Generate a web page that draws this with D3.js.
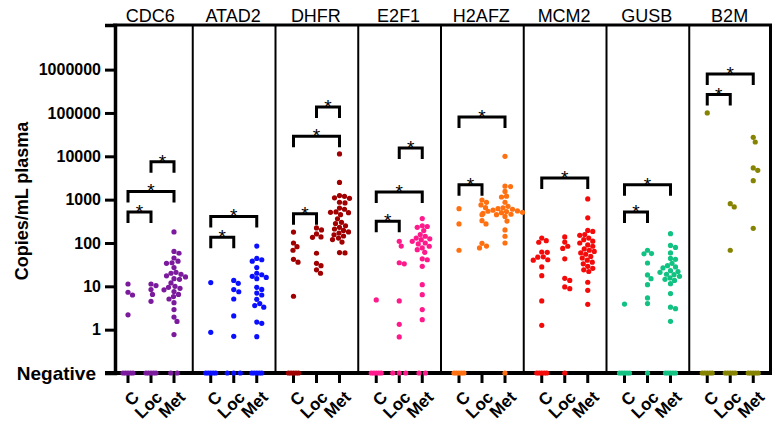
<!DOCTYPE html>
<html><head><meta charset="utf-8">
<script src="https://cdn.jsdelivr.net/npm/d3@7"></script>
<style>html,body{margin:0;padding:0;background:#fff}svg{display:block}</style>
</head><body>
<svg id="chart" width="780" height="430"></svg>
<script>
// ---------- data ----------
const genes = ["CDC6","ATAD2","DHFR","E2F1","H2AFZ","MCM2","GUSB","B2M"];
const groups = ["C","Loc","Met"];
const colors = ["#7B1A9C","#0A10FF","#A00000","#FF1A8C","#FF7010","#F50A0A","#12C283","#868300"];

// detected values (copies/mL plasma) per group: [C, Loc, Met]
const cdc6  = [[11.3,7.3,6.3,2.2],[11.3,10.4,8.4,6.5,4.5],
  [180,64,58,45,38,35,34,27,21,20,19,17.5,16.5,15,14.5,12,10,9.5,9,8.3,7.6,6.5,5.8,5.1,4.2,2.9,1.95,1.55,0.77]];
const atad2 = [[12.2,0.87],[13.7,11.7,8.4,7.5,5.1,2.07,0.70],
  [85,44,41,38,27,20,18.5,17,16,15,9.5,8.5,7.0,6.3,5.0,4.0,3.6,3.3,1.5,1.4,0.69]];
const dhfr  = [[178,100,82,68,42,36,5.9],[222,200,162,138,135,58,34,30,24,20],
  [11350,2500,1240,1190,1100,1070,870,840,640,600,520,510,500,450,360,300,280,250,230,210,195,180,170,155,145,130,120,105,60,59]];
const e2f1  = [[4.85],[109,85,35,33,4.6,1.33,0.68],
  [365,250,240,230,193,156,143,130,125,119,109,100,95,84,77,70,61,43,41,29,10.9,6.4,2.9,1.7]];
const h2afz = [[620,275,68],[982,867,754,654,451,327,275,98,85,77],
  [10000,2050,2000,1550,1200,1150,870,700,650,620,600,570,550,540,530,510,500,480,460,450,410,320,200,143,100]];
const mcm2  = [[130,113,104,62,61,48,47,41,40,28,17.6,4.6,1.26],[138,105,84,75,43,15.3,13.7,9.7,8.8],
  [1040,380,195,185,156,150,130,119,110,100,90,84,73,68,64,59,55,49,45,40,36,33,29,26,24,22,12.4,8.1,3.85]];
const gusb  = [[3.9],[68,57,56,34.5,18.3,15,10.9,5.4,4.0],
  [164,88,79,59,44,42,34,30,28,26.5,23,22,21,19,18.6,17,15.6,14.5,13.7,11.5,6.8,3.3,3.05,1.56]];
const b2m   = [[100000],[809,678,68],[27400,21400,5390,4750,2740,218]];
const geneValues = [cdc6, atad2, dhfr, e2f1, h2afz, mcm2, gusb, b2m];

// number of "Negative" samples per group [C, Loc, Met]
const negCounts = [[5,5,2],[5,3,5],[5,0,0],[5,3,2],[5,0,1],[5,1,0],[5,1,5],[5,5,5]];

// significance brackets: gene, from, to, bracket height (copies/mL)
const brackets = [
  ["CDC6","C","Loc",520],["CDC6","C","Met",1550],["CDC6","Loc","Met",7500],
  ["ATAD2","C","Loc",135],["ATAD2","C","Met",410],
  ["DHFR","C","Loc",470],["DHFR","C","Met",29000],["DHFR","Loc","Met",138000],
  ["E2F1","C","Loc",316],["E2F1","C","Met",1500],["E2F1","Loc","Met",15600],
  ["H2AFZ","C","Loc",2200],["H2AFZ","C","Met",81000],
  ["MCM2","C","Met",3170],
  ["GUSB","C","Loc",520],["GUSB","C","Met",2200],
  ["B2M","C","Loc",265000],["B2M","C","Met",795000]
];
const yTicks = [0.1,1,10,100,1000,10000,100000,1000000];
const negativeLabel = "Negative";
const yTitle = "Copies/mL plasma";

// ---------- layout ----------
const FONT = "'Liberation Sans', Arial, Helvetica, sans-serif";
const svg = d3.select("#chart");
const yTop = 25, yBot = 373, axisX = 115, xL = 110, xR = 772;
const y = d3.scaleLog().domain([0.1, 1.07e7]).range([yBot, yTop]);
const panel = d3.scaleBand().domain(genes).range([xL, xR]);
const cat = d3.scalePoint().domain(groups).range([18, 64]);
const R = 2.6;

// panel dividers
svg.append("g").selectAll("line").data(genes.slice(1)).join("line")
  .attr("x1", g => panel(g)).attr("x2", g => panel(g))
  .attr("y1", yTop).attr("y2", yBot)
  .attr("stroke", "#000").attr("stroke-width", 2);
// top & right borders
svg.append("line").attr("x1", axisX - 2).attr("x2", xR).attr("y1", yTop).attr("y2", yTop)
  .attr("stroke", "#000").attr("stroke-width", 3);
svg.append("line").attr("x1", xR - 1.5).attr("x2", xR - 1.5).attr("y1", yTop).attr("y2", yBot)
  .attr("stroke", "#000").attr("stroke-width", 3);

// y axis
const yAxis = svg.append("g").attr("transform", `translate(${axisX},0)`)
  .call(d3.axisLeft(y).tickValues(yTicks).tickSizeOuter(0).tickSize(10).tickPadding(4)
    .tickFormat(d => d === 0.1 ? negativeLabel : d3.format("d")(d)));
yAxis.select(".domain").attr("stroke-width", 3.5);
yAxis.selectAll(".tick line").attr("stroke-width", 3);
yAxis.selectAll(".tick text").attr("font-family", FONT).attr("font-weight", "bold")
  .attr("font-size", d => d === 0.1 ? 19 : 16).attr("fill", "#000")
  .attr("dx", d => d === 0.1 ? -5 : 0);

// bottom axis line
svg.append("line").attr("x1", axisX - 10).attr("x2", xR).attr("y1", yBot).attr("y2", yBot)
  .attr("stroke", "#000").attr("stroke-width", 4);

// y title
svg.append("text").attr("transform", `translate(28,${(yTop + yBot) / 2 + 2}) rotate(-90)`)
  .attr("text-anchor", "middle").attr("font-family", FONT).attr("font-weight", "bold")
  .attr("font-size", 18).text(yTitle);

// panel titles
svg.append("g").selectAll("text").data(genes).join("text")
  .attr("x", g => panel(g) + panel.bandwidth() / 2 - 1).attr("y", 22)
  .attr("text-anchor", "middle").attr("font-family", FONT).attr("font-size", 18)
  .text(g => g);

// x ticks & labels
genes.forEach(g => {
  const gg = svg.append("g");
  groups.forEach(c => {
    const x = panel(g) + cat(c);
    gg.append("line").attr("x1", x).attr("x2", x).attr("y1", yBot).attr("y2", yBot + 10)
      .attr("stroke", "#000").attr("stroke-width", 3);
    gg.append("text").attr("transform", `translate(${x + 8},${yBot + 21}) rotate(-45)`)
      .attr("text-anchor", "end").attr("dy", "0.35em")
      .attr("font-family", FONT).attr("font-weight", "bold").attr("font-size", 17)
      .text(c);
  });
});

// beeswarm layout
function swarm(vals) {
  const pts = vals.map(v => ({ v, y: y(v) })).sort((a, b) => a.y - b.y);
  const placed = [];
  const d = 2 * R * 0.97;
  pts.forEach(p => {
    let off = 0;
    for (let k = 0; k < 400; k++) {
      const o = (k % 2 === 1 ? 1 : -1) * Math.ceil(k / 2) * 0.5;
      if (placed.every(q => (q.x - o) ** 2 + (q.y - p.y) ** 2 >= d * d)) { off = o; break; }
    }
    p.dx = off; placed.push({ x: off, y: p.y });
  });
  return pts;
}

// points
genes.forEach((g, gi) => {
  const pg = svg.append("g").attr("fill", colors[gi]);
  groups.forEach((c, ci) => {
    const cx = panel(g) + cat(c);
    swarm(geneValues[gi][ci]).forEach(p => {
      pg.append("circle").attr("cx", cx + p.dx).attr("cy", p.y).attr("r", R);
    });
    const n = negCounts[gi][ci];
    if (n > 0) {
      const spread = n <= 3 ? (n - 1) * 6.5 : 10;
      d3.range(n).forEach(i => {
        const o = n === 1 ? 0 : -spread / 2 + spread * i / (n - 1);
        pg.append("circle").attr("cx", cx + o).attr("cy", y(0.1)).attr("r", R);
      });
    }
  });
});

// brackets
const bg = svg.append("g");
brackets.forEach(([g, a, b, v]) => {
  const x1 = panel(g) + cat(a), x2 = panel(g) + cat(b), yy = y(v);
  bg.append("path").attr("d", `M${x1},${yy + 11}V${yy}H${x2}V${yy + 11}`)
    .attr("fill", "none").attr("stroke", "#000").attr("stroke-width", 3)
    .attr("stroke-linejoin", "miter").attr("stroke-linecap", "butt");
  bg.append("text").attr("x", (x1 + x2) / 2).attr("y", yy + 6)
    .attr("text-anchor", "middle").attr("font-family", FONT).attr("font-size", 19)
    .text("*");
});
</script>
</body></html>
